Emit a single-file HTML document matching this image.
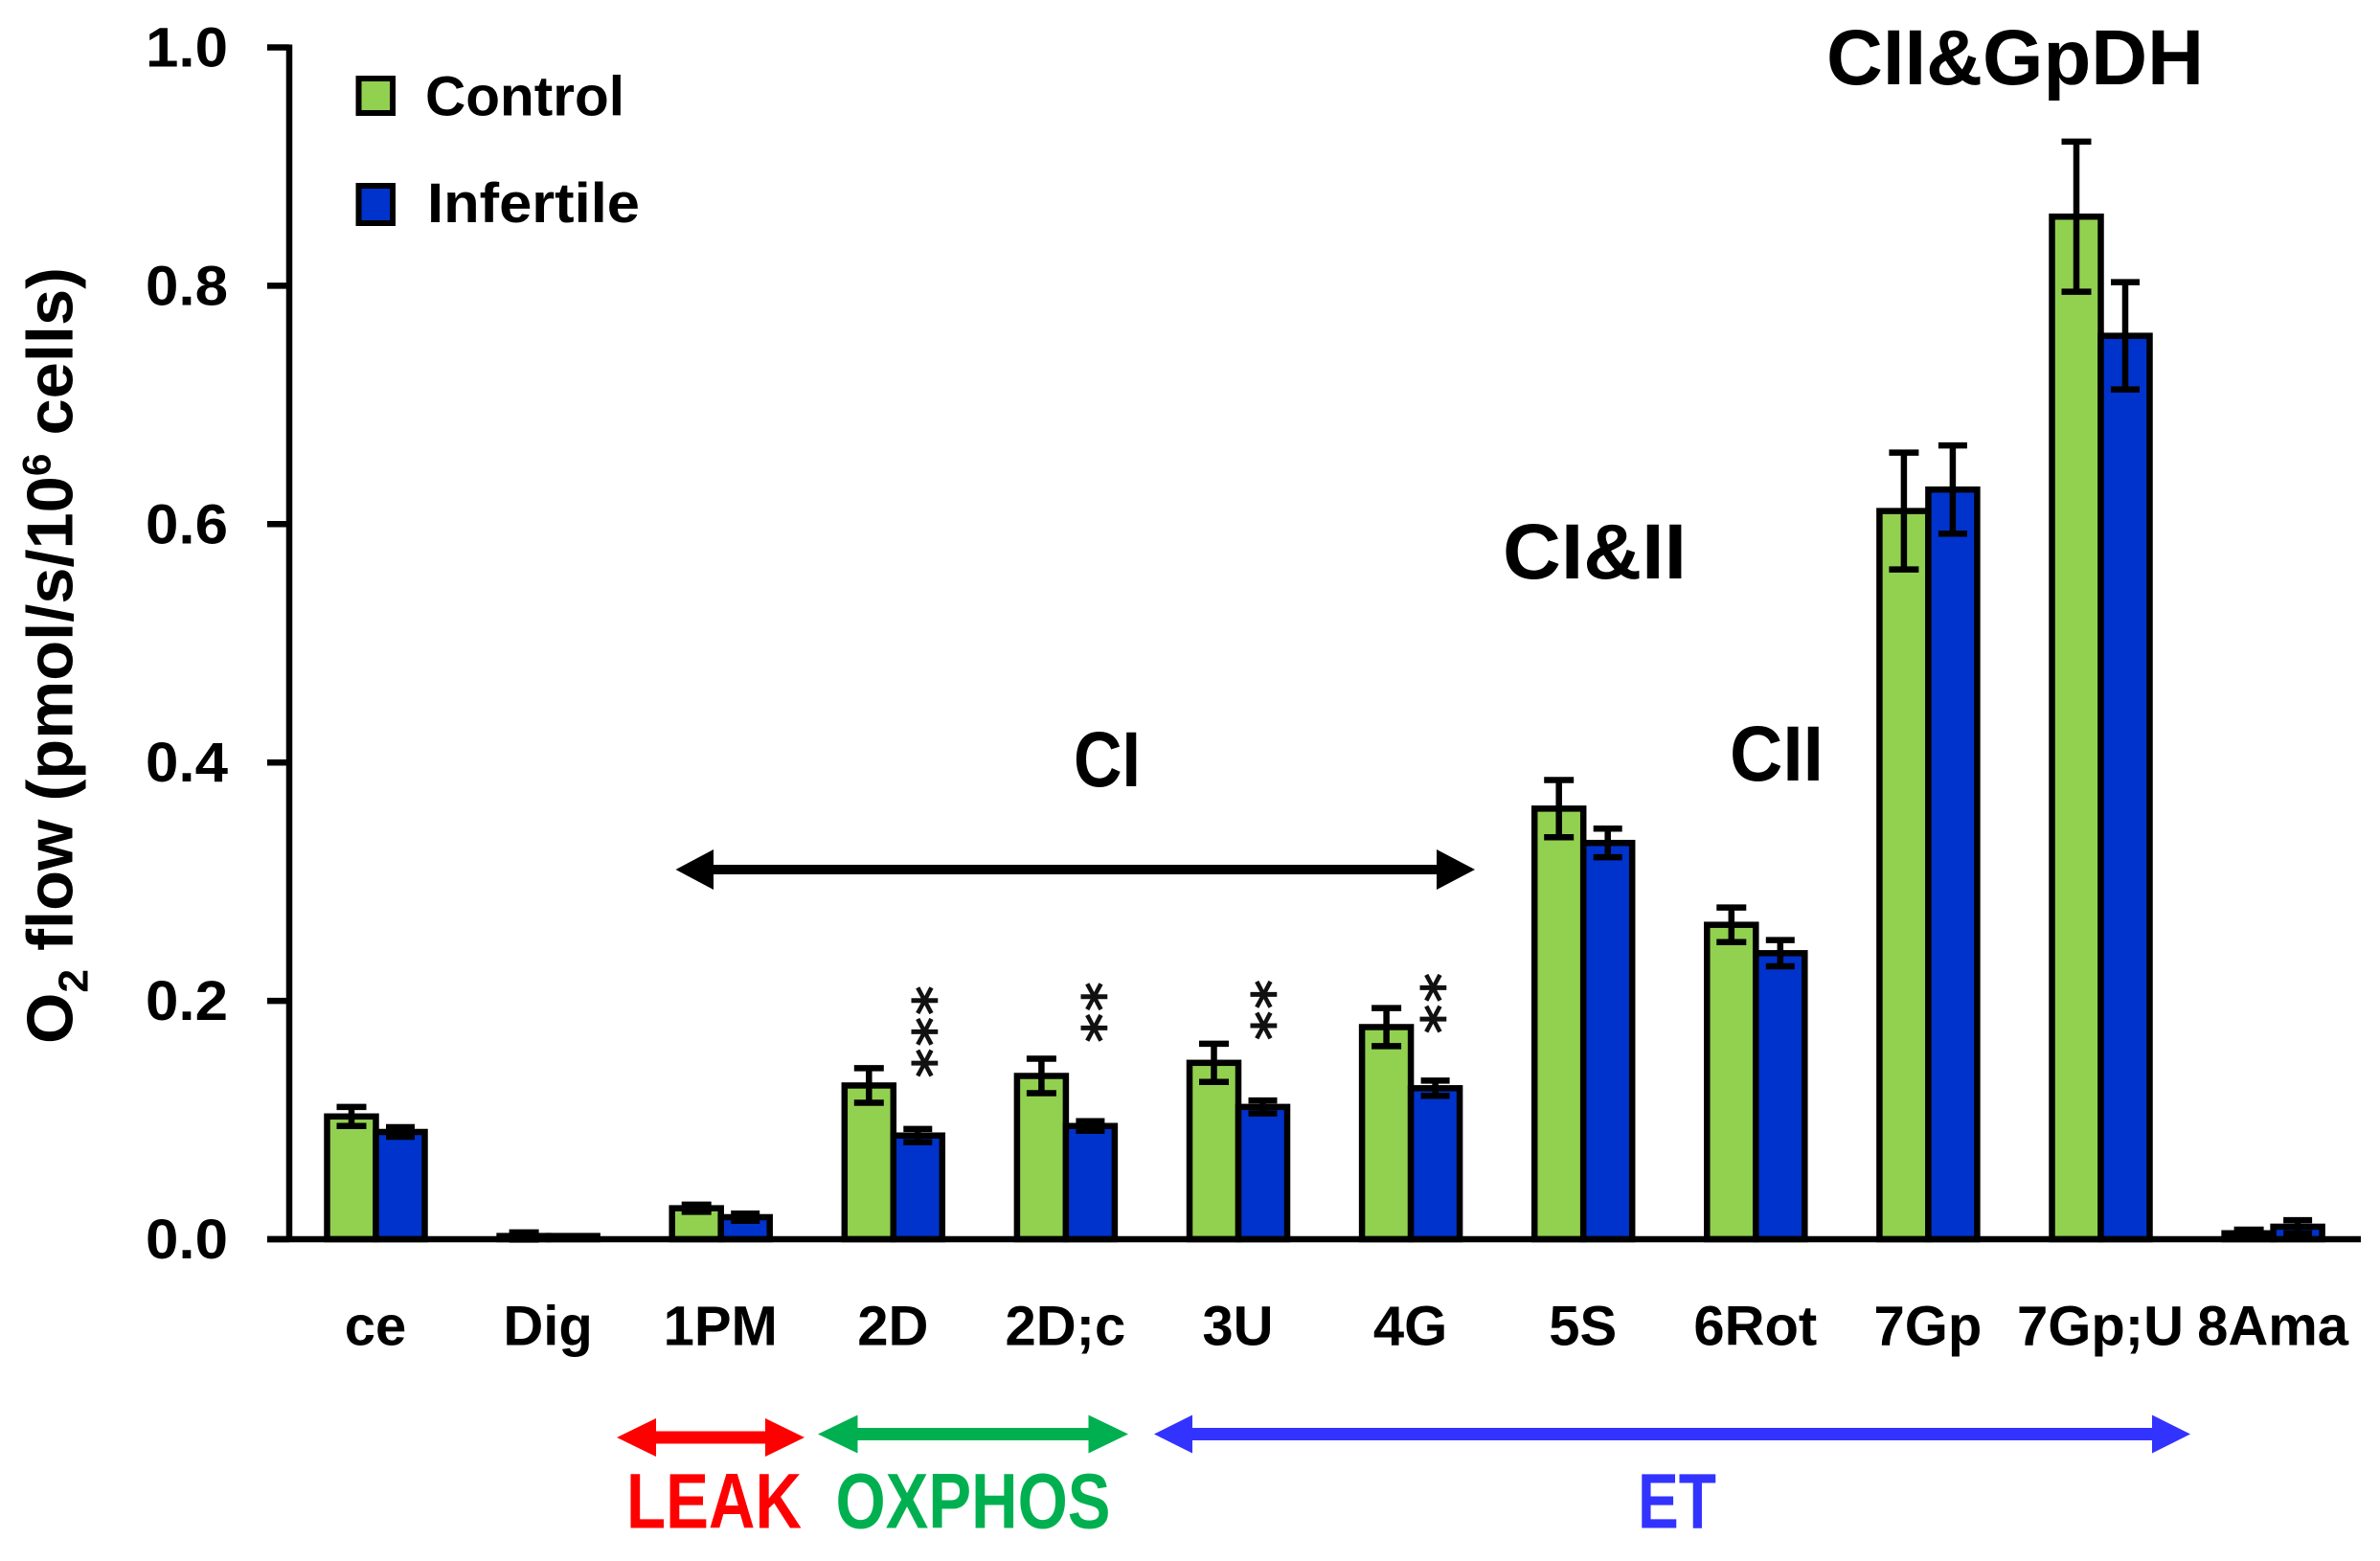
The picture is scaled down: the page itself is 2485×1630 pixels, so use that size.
<!DOCTYPE html>
<html lang="en">
<head>
<meta charset="utf-8">
<title>O2 flow chart</title>
<style>
html,body{margin:0;padding:0;background:#fff;width:2485px;height:1630px;overflow:hidden}
svg{display:block}
text{font-family:"Liberation Sans",sans-serif;font-weight:700;fill:#000}
</style>
</head>
<body>
<svg id="chart" xmlns="http://www.w3.org/2000/svg" width="2485" height="1630" viewBox="0 0 2485 1630">
  <rect x="0" y="0" width="2485" height="1630" fill="#fff"/>

  <text transform="translate(75.5 1090) rotate(-90)" font-size="68" textLength="811" lengthAdjust="spacingAndGlyphs">O<tspan font-size="44" dy="16">2</tspan><tspan dy="-16"> flow (pmol/s/10</tspan><tspan font-size="42" dy="-23">6</tspan><tspan dy="23"> cells)</tspan></text>

  <g id="marks"></g>
  <g id="axes"></g>
  <g id="stars"></g>

  <g>
    <rect x="374.5" y="82" width="35.5" height="36" fill="#92d050" stroke="#000" stroke-width="6"/>
    <text x="444" y="120.5" font-size="58" textLength="208" lengthAdjust="spacingAndGlyphs">Control</text>
    <rect x="374.5" y="194" width="35.5" height="39" fill="#0033cc" stroke="#000" stroke-width="6"/>
    <text x="446" y="232" font-size="58" textLength="222" lengthAdjust="spacingAndGlyphs">Infertile</text>
  </g>

  <text x="1907" y="88" font-size="82" textLength="394" lengthAdjust="spacingAndGlyphs">CII&amp;GpDH</text>
  <text x="1569" y="604" font-size="82" textLength="192" lengthAdjust="spacingAndGlyphs">CI&amp;II</text>
  <text x="1806" y="815" font-size="82" textLength="98" lengthAdjust="spacingAndGlyphs">CII</text>
  <text x="1121" y="821" font-size="82" textLength="70" lengthAdjust="spacingAndGlyphs">CI</text>

  <g fill="#000">
    <rect x="744" y="903" width="757" height="10"/>
    <polygon points="705.5,908 745,887 745,929"/>
    <polygon points="1540,908 1500,887 1500,929"/>
  </g>

  <g fill="#ff0000">
    <rect x="685" y="1494.5" width="114" height="13"/>
    <polygon points="644,1501 685,1481 685,1521"/>
    <polygon points="840,1501 799,1481 799,1521"/>
  </g>
  <g fill="#00b050">
    <rect x="895" y="1491" width="242" height="13"/>
    <polygon points="854,1497.5 895.5,1477.5 895.5,1517.5"/>
    <polygon points="1178,1497.5 1136.5,1477.5 1136.5,1517.5"/>
  </g>
  <g fill="#3333ff">
    <rect x="1245" y="1491" width="1002" height="13"/>
    <polygon points="1205,1497.5 1245,1477.5 1245,1517.5"/>
    <polygon points="2287,1497.5 2247,1477.5 2247,1517.5"/>
  </g>

  <text x="654" y="1595.7" font-size="82" textLength="183" lengthAdjust="spacingAndGlyphs" style="fill:#ff0000">LEAK</text>
  <text x="872.5" y="1595.7" font-size="82" textLength="287" lengthAdjust="spacingAndGlyphs" style="fill:#00b050">OXPHOS</text>
  <text x="1710" y="1595.7" font-size="82" textLength="82" lengthAdjust="spacingAndGlyphs" style="fill:#3333ff">ET</text>
</svg>

<script>
const categories = ["ce","Dig","1PM","2D","2D;c","3U","4G","5S","6Rot","7Gp","7Gp;U","8Ama"];
const controlValues = [0.103,0.0027,0.026,0.129,0.137,0.148,0.178,0.3613,0.2638,0.611,0.858,0.005];
const controlErrors = [0.008,0.003,0.003,0.0145,0.0145,0.016,0.016,0.024,0.0145,0.049,0.063,0.003];
const infertileValues = [0.090,0.0027,0.0185,0.087,0.095,0.111,0.1267,0.3325,0.240,0.629,0.758,0.0105];
const infertileErrors = [0.004,0,0.003,0.0055,0.004,0.0054,0.0064,0.012,0.011,0.037,0.045,0.0055];
const starCounts = [0,0,0,3,2,2,2,0,0,0,0,0];
const starBaseValues = [0,0,0,0.1478,0.1773,0.1792,0.1848,0,0,0,0,0];
const yTicks = [0,0.2,0.4,0.6,0.8,1.0];

const NS = "http://www.w3.org/2000/svg";
const Y_ZERO = 1294, Y_ONE = 49.5, BAND0 = 392.5, BAND_STEP = 180.1, HALF_BAR = 51;
function yScale(v){ return Y_ZERO - (Y_ZERO - Y_ONE) * v; }
function xScale(i){ return BAND0 + BAND_STEP * i; }
function make(tag, attrs, parent){
  const el = document.createElementNS(NS, tag);
  for (const k in attrs) el.setAttribute(k, attrs[k]);
  parent.appendChild(el);
  return el;
}
const marks = document.getElementById("marks");
const axes = document.getElementById("axes");
const starsG = document.getElementById("stars");

function drawBar(x, w, v, fill, name){
  const y = yScale(v);
  const el = make("rect", {x:x, y:y, width:w, height:Y_ZERO - y, fill:fill, stroke:"#000", "stroke-width":6.5}, marks);
  
  
}
function drawError(cx, v, e, capW, name){
  if (e <= 0) return;
  const g = make("g", {fill:"none", stroke:"#000", "stroke-width":6.5}, marks);
  
  
  const yt = yScale(v + e), yb = yScale(v - e);
  make("line", {x1:cx, x2:cx, y1:yt, y2:yb}, g);
  make("line", {x1:cx - capW / 2, x2:cx + capW / 2, y1:yt, y2:yt}, g);
  make("line", {x1:cx - capW / 2, x2:cx + capW / 2, y1:yb, y2:yb}, g);
}

categories.forEach(function(cat, i){
  const c = xScale(i);
  const key = cat.toLowerCase().replace(/;/g, "-");
  drawBar(c - HALF_BAR, HALF_BAR, controlValues[i], "#92d050", "bar-control-" + key);
  drawBar(c, HALF_BAR, infertileValues[i], "#0033cc", "bar-infertile-" + key);
  drawError(c - HALF_BAR / 2, controlValues[i], controlErrors[i], 31, "error-bar-control-" + key);
  drawError(c + HALF_BAR / 2, infertileValues[i], infertileErrors[i], 30, "error-bar-infertile-" + key);

  const label = make("text", {x:xScale(i) - 0.5, y:1404.5, "font-size":58, "text-anchor":"middle"}, axes);
  
  
  label.textContent = cat;

  for (let s = 0; s < starCounts[i]; s++){
    const sx = 965 + 177 * (i - 3);
    const sy = yScale(starBaseValues[i]) - 32.7 * s;
    const star = make("text", {x:sx, y:sy + 30, "font-size":60, "text-anchor":"middle", transform:"rotate(90 " + sx + " " + sy + ")", style:"fill:#111;font-family:'DejaVu Sans',sans-serif"}, starsG);
    
    
    star.textContent = "*";
  }
});

const yAxis = make("line", {x1:302, x2:302, y1:yScale(1) - 3, y2:Y_ZERO + 3, stroke:"#000", "stroke-width":6.5}, axes);


const xAxis = make("line", {x1:279, x2:2465, y1:Y_ZERO, y2:Y_ZERO, stroke:"#000", "stroke-width":6.5}, axes);



yTicks.forEach(function(t){
  const y = yScale(t);
  const tick = make("line", {x1:279, x2:302, y1:y, y2:y, stroke:"#000", "stroke-width":6.5}, axes);
  
  
  const lab = make("text", {x:238, y:y + 20, "font-size":58, "text-anchor":"end", textLength:86, lengthAdjust:"spacingAndGlyphs"}, axes);
  
  
  lab.textContent = t.toFixed(1);
});
</script>
</body>
</html>
